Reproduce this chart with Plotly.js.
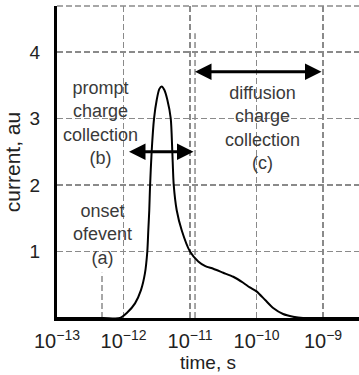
<!DOCTYPE html>
<html><head><meta charset="utf-8">
<script src="https://cdn.plot.ly/plotly-3.0.1.min.js"></script>
<style>html,body{margin:0;padding:0;background:#fff}</style>
</head><body><div id="chart" style="width:359px;height:375px"></div>
<script>
// time (s) and current (au) of the single-event current pulse
var timeS = [1e-13, 5e-13, 8.85e-13, 1.12e-12, 1.49e-12, 1.83e-12, 2.10e-12, 2.28e-12, 2.36e-12, 2.44e-12, 2.50e-12, 2.65e-12, 2.88e-12, 3.16e-12, 3.45e-12, 3.75e-12, 4.10e-12, 4.56e-12, 5.13e-12, 5.42e-12, 5.69e-12, 6.31e-12, 7.50e-12, 1e-11, 1.33e-11, 1.70e-11, 2.24e-11, 3.16e-11, 4.47e-11, 6.31e-11, 7.94e-11, 1e-10, 1.35e-10, 1.78e-10, 2.51e-10, 3.55e-10, 5.01e-10, 1e-9, 3.5e-9];
var currentAu = [0, 0, 0, 0.075, 0.22, 0.42, 0.67, 1.0, 1.32, 1.62, 1.95, 2.5, 3.0, 3.28, 3.44, 3.48, 3.43, 3.28, 3.0, 2.5, 2.0, 1.62, 1.32, 1.0, 0.85, 0.78, 0.74, 0.68, 0.62, 0.53, 0.46, 0.40, 0.27, 0.15, 0.06, 0.02, 0, 0, 0];
var tickTimes = [1e-13, 1e-12, 1e-11, 1e-10, 1e-9];
var tickLabels = ['10<sup>\u221213</sup>', '10<sup>\u221212</sup>', '10<sup>\u221211</sup>', '10<sup>\u221210</sup>', '10<sup>\u22129</sup>'];
var yTicks = [1, 2, 3, 4];
var onsetTime = 4.75e-13;      // onset marker (a)
var onsetHeight = 0.68;
var boundaryTime = 1.19e-11;   // prompt / diffusion boundary
var boundaryHeight = 4.28;

var grey = '#8a8a8a';
var traces = [
  {x: [onsetTime, onsetTime], y: [0, onsetHeight], mode: 'lines', line: {color: grey, width: 1.5, dash: '6px,3px'}, hoverinfo: 'skip'},
  {x: [boundaryTime, boundaryTime], y: [0, boundaryHeight], mode: 'lines', line: {color: grey, width: 1.5, dash: '6px,3px'}, hoverinfo: 'skip'},
  {x: timeS, y: currentAu, mode: 'lines', line: {color: '#000', width: 2, shape: 'spline', smoothing: 0.7}}
];

var L = Math.log10;
var annFont = {family: 'Liberation Sans, Arial, sans-serif', size: 18, color: '#3a3a3a'};
var layout = {
  width: 359, height: 375,
  margin: {l: 57, r: 0, t: 6, b: 57},
  showlegend: false,
  paper_bgcolor: '#fff', plot_bgcolor: '#fff',
  font: {family: 'Liberation Sans, Arial, sans-serif', color: '#222'},
  xaxis: {
    type: 'log', range: [-13, -8.459],
    tickvals: tickTimes, ticktext: tickLabels, ticks: '',
    tickfont: {size: 20, color: '#222'}, ticklabelstandoff: 3,
    showgrid: true, gridcolor: grey, gridwidth: 1.5, griddash: '6px,3px',
    showline: true, linecolor: '#000', linewidth: 3, zeroline: false,
    title: {text: 'time, s', font: {size: 19, color: '#222'}, standoff: 4}
  },
  yaxis: {
    range: [0, 4.69],
    tickvals: yTicks, ticks: '', tickfont: {size: 19, color: '#222'}, ticklabelstandoff: 10,
    showgrid: true, gridcolor: grey, gridwidth: 1.5, griddash: '6px,3px',
    showline: true, linecolor: '#000', linewidth: 3, zeroline: false,
    title: {text: 'current, au', font: {size: 21, color: '#222'}, standoff: 4}
  },
  shapes: [
    {type: 'line', xref: 'paper', yref: 'paper', x0: 0, x1: 1, y0: 1, y1: 1, line: {color: grey, width: 1.5, dash: '6px,3px'}}
  ],
  annotations: [
    {x: L(1.21e-12), y: 2.5, ax: L(1.19e-11), ay: 2.5, xref: 'x', yref: 'y', axref: 'x', ayref: 'y', text: '', showarrow: true, arrowhead: 2, arrowside: 'end+start', arrowsize: 1.1, arrowwidth: 3, arrowcolor: '#000'},
    {x: L(1.19e-11), y: 3.7, ax: L(1e-9), ay: 3.7, xref: 'x', yref: 'y', axref: 'x', ayref: 'y', text: '', showarrow: true, arrowhead: 2, arrowside: 'end+start', arrowsize: 1.1, arrowwidth: 3, arrowcolor: '#000'},
    {x: -12.353, y: 2.93, xref: 'x', yref: 'y', text: 'prompt<br>charge<br>collection<br>(b)', showarrow: false, font: annFont, xanchor: 'center', yanchor: 'middle'},
    {x: -9.917, y: 2.86, xref: 'x', yref: 'y', text: 'diffusion<br>charge<br>collection<br>(c)', showarrow: false, font: annFont, xanchor: 'center', yanchor: 'middle'},
    {x: -12.323, y: 1.26, xref: 'x', yref: 'y', text: 'onset<br>ofevent<br>(a)', showarrow: false, font: annFont, xanchor: 'center', yanchor: 'middle'}
  ]
};
Plotly.newPlot('chart', traces, layout, {displayModeBar: false, staticPlot: true});
</script></body></html>
